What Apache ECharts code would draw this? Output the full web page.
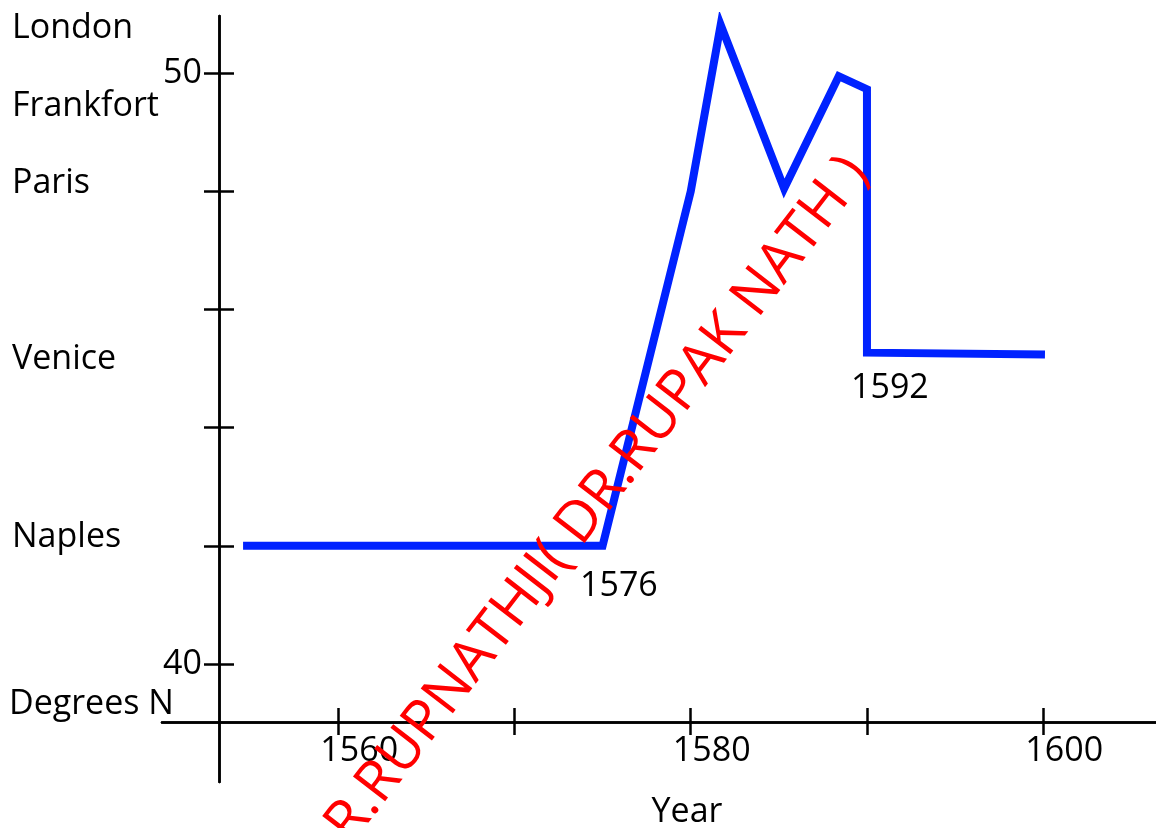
<!DOCTYPE html>
<html>
<head>
<meta charset="utf-8">
<style>
  html, body { margin: 0; padding: 0; background: #fff; }
  #chart { width: 1156px; height: 828px; }
</style>
<script src="https://cdn.jsdelivr.net/npm/echarts@6/dist/echarts.min.js"></script>
</head>
<body>
<div id="chart"></div>
<script>
// latitude reached by the line over time
const years = [1554.6, 1575.0, 1580.0, 1581.7, 1585.3, 1588.4, 1590.0, 1590.0, 1600.1]
const latitudes = [42.0, 42.0, 48.0, 50.82, 48.05, 49.95, 49.73, 45.27, 45.24]

const yearTicks = [1560, 1570, 1580, 1590, 1600]
const yearLabels = [1560, 1580, 1600]
const degreeTicks = [40, 42, 44, 46, 48, 50]
const degreeLabels = [40, 50]

const cityNames = ['London', 'Frankfort', 'Paris', 'Venice', 'Naples']
const cityLatitudes = [50.82, 49.5, 48.18, 45.21, 42.19]

const noteTexts = ['1576', '1592']
const watermark = 'DR.RUPNATHJI( DR.RUPAK NATH )'

const FONT = '"Open Sans", "DejaVu Sans", sans-serif'
const chart = echarts.init(document.getElementById('chart'))

const axisLine = { show: true, onZero: false, lineStyle: { color: '#000', width: 2.5 } }

function yearAxis(inside, length) {
  return {
    type: 'value',
    min: 1550,
    max: 1606.4,
    interval: 10,
    position: 'bottom',
    offset: -60,
    axisLine,
    axisTick: { show: true, inside, length, customValues: yearTicks, lineStyle: { color: '#000', width: 2.5 } },
    axisLabel: {
      show: !inside,
      customValues: yearLabels,
      formatter: v => String(v),
      color: '#000',
      fontFamily: FONT,
      fontSize: 34,
      margin: 12,
      padding: [0, 0, 0, 42]
    },
    splitLine: { show: false }
  }
}

function degreeAxis(inside, length) {
  return {
    type: 'value',
    min: 38,
    max: 50.97,
    interval: 2,
    position: 'left',
    offset: -57,
    axisLine,
    axisTick: { show: true, inside, length, customValues: degreeTicks, lineStyle: { color: '#000', width: 2.5 } },
    axisLabel: {
      show: !inside,
      customValues: degreeLabels,
      formatter: v => String(v),
      color: '#000',
      fontFamily: FONT,
      fontSize: 34,
      margin: 17,
      padding: [0, 0, 10, 0]
    },
    splitLine: { show: false }
  }
}

chart.setOption({
  animation: false,
  backgroundColor: '#fff',
  grid: { left: 162, right: 0, top: 16, bottom: 46, outerBoundsMode: 'none' },
  xAxis: [yearAxis(false, 13), yearAxis(true, 14)],
  yAxis: [degreeAxis(false, 15), degreeAxis(true, 15)],
  series: [{
    type: 'line',
    data: years.map((y, i) => [y, latitudes[i]]),
    showSymbol: false,
    lineStyle: { color: '#0022ff', width: 8, join: 'miter', miterLimit: 20, cap: 'butt' },
    z: 3
  }]
})

const textStyle = (text, size, align) => ({
  text,
  fontFamily: FONT,
  fontSize: size,
  fill: '#000',
  textAlign: align,
  textVerticalAlign: 'middle'
})

const graphics = cityNames.map((name, i) => ({
  type: 'text',
  x: 12,
  y: chart.convertToPixel({ yAxisIndex: 0 }, cityLatitudes[i]) + 3,
  style: textStyle(name, 34, 'left')
}))

graphics.push(
  { type: 'text', x: 9, y: 704, style: textStyle('Degrees N', 34, 'left') },
  { type: 'text', x: 580, y: 586, style: textStyle(noteTexts[0], 34, 'left') },
  { type: 'text', x: 851, y: 388, style: textStyle(noteTexts[1], 34, 'left') },
  { type: 'text', x: 687, y: 812, style: textStyle('Year', 34, 'center') },
  {
    type: 'text',
    x: 585,
    y: 516,
    rotation: 52.3 * Math.PI / 180,
    z: 100,
    style: {
      text: watermark,
      fontFamily: FONT,
      fontSize: 57,
      fill: '#ff0000',
      textAlign: 'center',
      textVerticalAlign: 'middle'
    }
  }
)

chart.setOption({ graphic: graphics })
</script>
</body>
</html>
